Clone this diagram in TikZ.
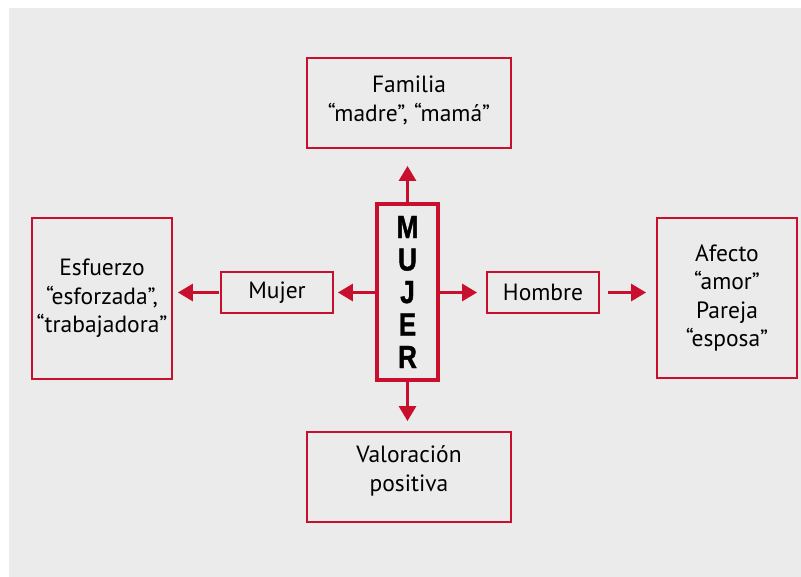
\documentclass[tikz,border=0pt]{standalone}
\usepackage{fontspec}
\setmainfont{PT Sans}
\newfontfamily\condfont[FakeStretch=0.82,FakeBold=1.2]{Liberation Sans}
\usetikzlibrary{arrows.meta}
\definecolor{myred}{RGB}{200,16,46}
\definecolor{bggray}{RGB}{235,235,235}
\tikzset{
  box/.style={draw=myred, line width=1.8pt, inner sep=0pt, align=center,
    font=\fontsize{23.5}{28.5}\selectfont, text=black},
  boxtext/.style={inner sep=0pt, align=center, font=\fontsize{23.5}{29}\selectfont, text=black},
  centerbox/.style={draw=myred, line width=3.5pt, inner sep=0pt, align=center,
    font=\condfont\bfseries\fontsize{32}{32.5}\selectfont, text=black},
  redarrow/.style={draw=myred, line width=3pt, -{Triangle[width=17pt,length=15pt]}}
}
\begin{document}
\begin{tikzpicture}[x=1pt,y=-1pt]
\useasboundingbox (0,0) rectangle (801,577);
\fill[bggray] (9,8) rectangle (801,577);

\node[box, minimum width=204pt, minimum height=90pt] (fam) at (409,103) {};
\node[boxtext] (famt) at ([yshift=3pt]fam.center) {Familia\\“madre”, “mamá”};
\node[box, minimum width=140pt, minimum height=161pt] (esf) at (102,298.5) {Esfuerzo\\“esforzada”,\\“trabajadora”};
\node[box, minimum width=140pt, minimum height=160pt] (afe) at (727,298) {Afecto\\“amor”\\Pareja\\“esposa”};
\node[box, minimum width=204pt, minimum height=90pt] (val) at (409,477) {};
\node[boxtext] (valt) at ([yshift=6pt]val.center) {Valoración\\positiva};
\node[box, minimum width=112pt, minimum height=41pt] (muj) at (277,292.5) {Mujer};
\node[box, minimum width=112pt, minimum height=41pt] (hom) at (543,292.5) {Hombre};
\node[centerbox, minimum width=61pt, minimum height=176pt] (c) at (407.5,292) {M\\U\\J\\E\\R};

\draw[redarrow, shorten >=17pt] (c.north) -- (c.north |- fam.south);
\draw[redarrow, shorten >=10pt] (c.south) -- (c.south |- val.north);
\draw[redarrow, shorten >=4pt] (c.west |- muj.east) -- (muj.east);
\draw[redarrow, shorten >=5pt, shorten <=1pt] (muj.west) -- (esf.east |- muj.west);
\draw[redarrow, shorten >=9pt] (c.east |- hom.west) -- (hom.west);
\draw[redarrow, shorten >=10pt, shorten <=8pt] (hom.east) -- (afe.west |- hom.east);
\end{tikzpicture}
\end{document}
